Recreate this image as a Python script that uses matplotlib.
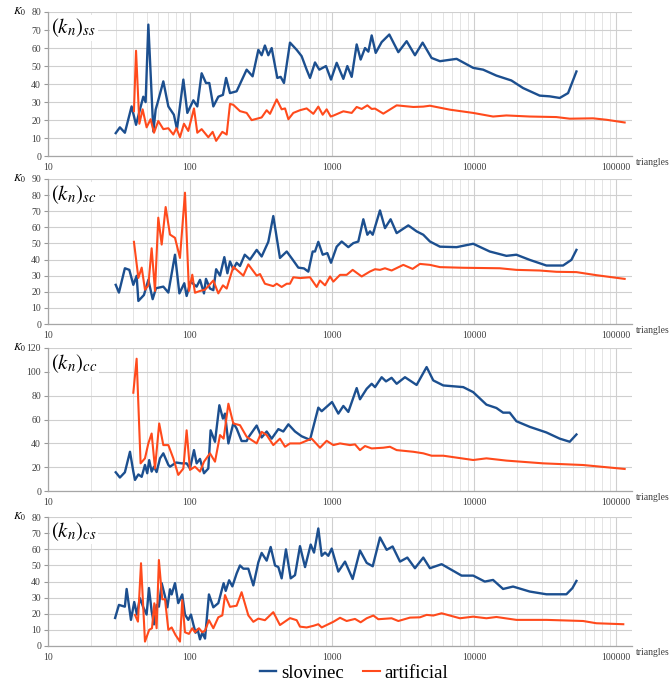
import matplotlib
matplotlib.use("Agg")
import matplotlib.pyplot as plt
from matplotlib.ticker import LogLocator, FixedLocator, FixedFormatter, MultipleLocator, NullFormatter

plt.rcParams['font.family'] = 'Liberation Serif'
plt.rcParams['mathtext.fontset'] = 'stix'

BLUE = '#1c4f8f'
RED = '#ff4a1c'

##==================== data: (k_n)_ss ===========================
ss_slov_x = [30, 32.1, 34.8, 38.8, 41.7, 44.4, 46.9, 48.7, 50.9, 55.2, 57.3, 59.8, 64.9, 70.4,
             77, 81, 89.8, 95.8, 105.6, 112.6, 120.8, 129.6, 136.8, 146, 158.3, 170.6, 179.6,
             191.3, 213, 250.6, 276, 303, 319.6, 337, 356, 376, 412, 435, 459, 506, 564, 611,
             663, 700, 759, 814, 907, 984, 1079, 1202, 1282, 1376, 1492, 1591, 1708, 1803, 1903,
             2031, 2237, 2532, 2931, 3354, 3838, 4346, 5025, 5756, 7540, 9865, 11590, 14380,
             18330, 22150, 29000, 34130, 40130, 45950, 52630]
ss_slov_y = [12.8, 16, 13, 27.6, 17.4, 25.8, 33, 30, 73, 13.7, 25.8, 31, 41.5, 27.6,
             23, 15, 42.5, 24, 31, 27.6, 46, 40.6, 40.6, 27.6, 33, 34, 43.4,
             35, 36, 48, 44.3, 59, 56, 61.4, 56, 60, 43.4, 44, 40.6, 63, 59, 55.5,
             48, 43.4, 52, 48, 50, 42.5, 51.8, 42.9, 50, 44, 62, 53.6, 60, 58, 67,
             57.3, 63.3, 67.5, 57.7, 63.8, 56, 63, 54.5, 52.7, 54, 49, 48, 44.7,
             42, 37.8, 33.6, 33.2, 32.3, 35, 47]
ss_art_x = [40.3, 41.7, 44, 46.4, 49.5, 52.8, 55.8, 59.8, 64.9, 70.4, 76.3, 80.3, 85, 90.7,
            97.3, 106.7, 112.6, 120.8, 134.6, 144.4, 152.8, 168.9, 181.3, 191.3, 201.9, 224.9,
            250.6, 271.8, 319.6, 346.7, 366, 408, 442, 467, 493, 534, 595, 663, 739, 801, 860,
            917, 979, 1022, 1202, 1376, 1492, 1618, 1774, 1903, 2009, 2298, 2853, 3737, 4393,
            4894, 6768, 9865, 13620, 16910, 24680, 38020, 47200, 68900, 85720, 115000]
ss_art_y = [25, 58.5, 18, 26, 16, 20.5, 13, 19.5, 15, 15.5, 12, 15.5, 10.5, 18,
            14, 26.5, 13, 15, 10.5, 13.5, 8.5, 13.5, 12, 29, 28.5, 25,
            24, 20, 21.5, 25.5, 23.5, 31.5, 26, 26.5, 20.5, 24, 25.5, 26.5, 23.5, 27.5, 23,
            26, 22, 22.5, 24.9, 24, 27.3, 26.2, 28.2, 26.2, 26.4, 23.6, 28.2, 27.3, 27.5,
            28, 25.8, 24, 22, 22.6, 22, 21.7, 20.8, 21, 20.2, 18.7]

##==================== data: (k_n)_sc ===========================
sc_slov_x = [30, 31.6, 34.8, 37.4, 39.9, 42.1, 43.3, 47.4, 50.9, 54.6, 57.6, 64.9, 70.4, 78.4,
             84.2, 91.2, 94.7, 101, 111.4, 117.6, 125.5, 129.6, 138.3, 146, 152.8, 162.7,
             174.5, 183.4, 191.3, 201.9, 213, 224.9, 243, 264.6, 294.9, 319.6, 356, 386, 430,
             480, 528, 579, 635, 681, 731, 759, 801, 860, 927, 984, 1079, 1170, 1303, 1413,
             1532, 1662, 1774, 1852, 1935, 2177, 2361, 2586, 2853, 3446, 3943, 4393, 4894,
             5756, 7540, 9865, 12900, 16910, 19880, 24680, 32330, 42360, 48490, 52630]
sc_slov_y = [24.3, 19.5, 34.6, 33.6, 24.3, 29.9, 14.3, 18, 27.4, 15.4, 22.2, 23.2, 19.5, 43,
             19, 25.3, 17.4, 26.3, 23.2, 27.4, 19, 28, 22, 21, 34, 30,
             41.5, 31.5, 38.8, 34, 38, 36, 43, 40, 46, 41.9, 51, 67, 41,
             45, 40, 35, 34.5, 32.5, 45, 45, 51, 43, 44, 38, 48, 51.2, 47.7, 50.2,
             51.2, 65, 55.4, 57.5, 55.4, 70.5, 59.5, 65, 56.4, 61.2, 57.5, 55.4, 51.2,
             48, 47.7, 49.8, 45, 42.3, 43, 39.8, 36.3, 36.3, 39.8, 46]
sc_art_x = [40.3, 43.3, 45.7, 48.2, 50.9, 53.7, 56.7, 59.8, 63.2, 67.4, 72.3, 78.4, 85, 92.2,
            98.3, 103.8, 108.4, 117.6, 127.6, 146, 158.3, 170.6, 181.3, 201.9, 237.5, 257.5,
            294.9, 311.3, 337, 386, 408, 442, 480, 506, 534, 595, 700, 780, 823, 893, 969,
            1022, 1139, 1268, 1398, 1618, 1852, 2009, 2177, 2361, 2628, 3178, 3695, 4162,
            4894, 5756, 8395, 15180, 19880, 29000, 38020, 52630, 72730, 115000]
sc_art_y = [51, 28.6, 35, 21.3, 24, 47, 20.5, 66, 49.3, 72.6, 55.5, 53.5, 41, 81.5,
            20.5, 30.6, 19.4, 20.5, 21.3, 27, 19, 24, 22, 35.5, 30, 37,
            30, 31, 25, 23.5, 25, 23, 25, 25, 29, 28.5, 29, 23, 27, 24, 29.5,
            26.3, 30.5, 30.5, 33.6, 29.5, 32.6, 34, 33.6, 34.6, 33.2, 36.7, 34.2, 37.3,
            36.7, 35.3, 34.9, 34.6, 33.6, 33.2, 32.4, 32.2, 30.3, 28]

##==================== data: (k_n)_cc ===========================
cc_slov_x = [30, 32.1, 34.8, 37.8, 39.9, 41, 43.3, 45.7, 48.2, 50, 51.6, 53.7, 55.8, 58.2,
             61.5, 64.9, 70.4, 72.3, 80, 87.4, 94.7, 100, 106.7, 111.4, 117.6, 125.5, 134.6,
             139.7, 150, 161, 170.6, 176.4, 186.4, 201.9, 213, 230.9, 250.6, 257.5, 294.9,
             319.6, 346.7, 376, 419, 454, 493, 549, 611, 700, 801, 846, 1000, 1108, 1202,
             1303, 1492, 1574, 1755, 1903, 2009, 2237, 2400, 2628, 2853, 3265, 3943, 4637,
             5166, 6075, 8395, 9865, 12230, 14380, 16020, 17840, 19880, 24680, 32330, 40130,
             47200, 52630]
cc_slov_y = [15.8, 11.4, 15.8, 33, 16.4, 9.4, 14, 12, 22, 15, 26, 16.4, 20.5, 16,
             27.5, 31.7, 22, 20.5, 24, 23.3, 23.3, 19, 34.4, 23.3, 27, 15, 19,
             51, 41.4, 72, 60.8, 65, 40, 57, 52.5, 42, 42, 45, 55,
             45, 50, 44, 52, 50, 56, 50, 46, 43, 70, 67, 74.7, 65, 71.4,
             66.4, 86.4, 77, 85.8, 90, 87.2, 95.5, 92, 95, 90, 95.5, 89, 104,
             92.8, 88.6, 87.2, 83, 72.5, 69.7, 65.8, 65.8, 58.6, 53.9, 49.2, 44,
             41.4, 47.5]
cc_art_x = [39.9, 42.1, 44.9, 48.2, 50.9, 53.7, 56.7, 60.7, 64.9, 70.4, 76.3, 82.7, 89.8,
            94.7, 100, 108.4, 117.6, 125.5, 138.3, 150, 162.7, 172.5, 186.4, 201.9, 224.9,
            250.6, 294.9, 319.6, 346.7, 386, 430, 467, 506, 595, 719, 823, 917, 1022, 1139,
            1339, 1452, 1574, 1708, 1903, 2298, 2558, 2853, 3737, 4393, 5025, 6075, 9865,
            12230, 16910, 30630, 58640, 115000]
cc_art_y = [82.5, 111, 23.3, 27.5, 40, 48.3, 19, 56.7, 38.6, 38.6, 27.5, 13.6, 19,
            51, 17.8, 20.5, 16.4, 24.7, 31.7, 24.7, 47, 44, 73.3, 56.7, 55.3,
            45.6, 40, 49.7, 47, 38.6, 44, 37.2, 40, 40, 44, 36.4, 42.2, 38.6, 40,
            38.6, 39.2, 34.4, 37.8, 35.8, 36.4, 37.2, 34.4, 33, 31.7, 29.7, 29.7, 26.1,
            27.5, 25.6, 23.3, 21.9, 18.6]

##==================== data: (k_n)_cs ===========================
cs_slov_x = [29.7, 31.6, 34.8, 35.8, 38.4, 40.5, 42.3, 44.4, 46.9, 49.5, 51.4, 53.7, 55.8,
             58.2, 60.4, 63.2, 66.7, 69.3, 72.3, 74.3, 78.4, 82.7, 88.2, 92.2, 97.3, 101.6,
             105.6, 109.5, 113.2, 117.6, 122, 127.6, 136, 146, 158.3, 172.5, 178.5, 188.6,
             198.8, 213, 224.9, 237.5, 257.5, 279.3, 303, 319.6, 346.7, 370, 397, 419, 442,
             474, 512, 549, 595, 646, 708, 747, 801, 846, 893, 942, 995, 1108, 1235, 1398,
             1574, 1755, 1935, 2177, 2426, 2671, 3011, 3391, 3838, 4393, 4894, 5913, 8173,
             9865, 11910, 13620, 16020, 18830, 24680, 32330, 44720, 49280, 52630]
cs_slov_y = [17.4, 25.5, 24.4, 35.4, 16.2, 27.3, 19.5, 29.7, 24, 19.5, 36, 21.6, 13.4,
             25.5, 24.4, 39, 30.8, 24, 35.2, 32, 39, 26.6, 32, 19.5, 16.2, 19.5,
             13.4, 8.2, 10.3, 4.1, 8.2, 4.6, 32, 24, 26.6, 39, 34.2, 40.8,
             37, 45, 50, 48, 48, 37.6, 52, 57.8, 53, 61.5, 50, 49, 42,
             60, 42, 44, 62, 49, 63, 58, 73, 56, 58, 56, 60.5, 46.2, 52.4, 41.6,
             59.3, 51.6, 49.5, 67.4, 59.7, 61.8, 52.4, 54.9, 48.3, 54.9, 48.3, 50.8, 43.7,
             43.7, 40, 41, 35.4, 36.9, 33.8, 32.1, 32.1, 35.9, 40.4]
cs_art_x = [41, 43, 45.2, 48.2, 51.6, 54, 56.1, 58.2, 60.4, 63.8, 66.7, 70.4, 74.3, 79.1,
            85, 88.2, 92.2, 98.3, 103.8, 108.4, 115.6, 122, 127.6, 136, 146, 158.3, 168.9,
            176.4, 191.3, 213, 230.9, 257.5, 279.3, 303, 337, 386, 430, 506, 564, 595, 663,
            739, 801, 846, 917, 1022, 1139, 1268, 1452, 1591, 1755, 1955, 2119, 2628, 2931,
            3540, 4162, 4637, 5166, 5913, 7956, 9865, 12230, 14380, 19880, 32330, 58640,
            72730, 112500]
cs_art_y = [19.3, 15.1, 51.4, 2.7, 10, 11, 26.5, 11, 53.4, 29, 29, 10, 11.5, 6.8,
            2.7, 28.5, 8.5, 7.5, 11, 8.5, 11, 8.5, 9.5, 16, 11, 17.8, 19,
            31.6, 24.3, 25, 33.4, 19, 15, 17, 16, 21, 13, 17.3, 16, 12, 11.5,
            12.5, 13.5, 11.5, 13, 15, 17.5, 15.5, 16.8, 14.7, 17.2, 18.9, 16.6, 17.2, 15.5,
            17.6, 17.8, 19.3, 18.9, 20.3, 17.2, 18.2, 17.2, 18, 16.2, 16.2, 15.5,
            14.1, 13.5]

panels = [
    (r'$(k_n)_{ss}$', 80, 10, ss_slov_x, ss_slov_y, ss_art_x, ss_art_y),
    (r'$(k_n)_{sc}$', 90, 10, sc_slov_x, sc_slov_y, sc_art_x, sc_art_y),
    (r'$(k_n)_{cc}$', 120, 20, cc_slov_x, cc_slov_y, cc_art_x, cc_art_y),
    (r'$(k_n)_{cs}$', 80, 10, cs_slov_x, cs_slov_y, cs_art_x, cs_art_y),
]
# [bottom, height] of each panel in figure fraction
boxes = [(0.772, 0.2105), (0.527, 0.2117), (0.283, 0.209), (0.057, 0.188)]

fig = plt.figure(figsize=(6.7, 6.85), dpi=100)

for (label, ymax, ystep, sx, sy, ax_, ay), (bot, hgt) in zip(panels, boxes):
    ax = fig.add_axes([0.0716, bot, 0.872, hgt])
    ax.set_xscale('log')
    ax.set_xlim(10, 130000)
    ax.set_ylim(0, ymax)

    ax.xaxis.set_major_locator(FixedLocator([10, 100, 1000, 10000, 100000]))
    ax.xaxis.set_major_formatter(FixedFormatter(['10', '100', '1000', '10000', '100000']))
    ax.xaxis.set_minor_locator(LogLocator(base=10, subs=range(2, 10)))
    ax.xaxis.set_minor_formatter(NullFormatter())
    ax.yaxis.set_major_locator(MultipleLocator(ystep))

    ax.tick_params(axis='x', which='both', length=0, pad=5, labelsize=7, colors='#404040')
    ax.tick_params(axis='y', length=3, width=0.8, color='#999999', pad=2,
                   labelsize=7, labelcolor='#404040')

    ax.grid(which='major', axis='both', color='#cfcfcf', lw=0.8)
    ax.grid(which='minor', axis='x', color='#e4e4e4', lw=0.7)
    ax.set_axisbelow(True)
    for side in ('top', 'right'):
        ax.spines[side].set_visible(False)
    for side in ('left', 'bottom'):
        ax.spines[side].set_color('#a6a6a6')
        ax.spines[side].set_linewidth(0.9)

    ax.plot(sx, sy, color=BLUE, lw=1.7, solid_joinstyle='round', label='slovinec')
    ax.plot(ax_, ay, color=RED, lw=1.5, solid_joinstyle='round', label='artificial')

    ax.text(0.006, 0.89, label, transform=ax.transAxes, fontsize=15, va='center', ha='left',
            bbox=dict(facecolor='white', edgecolor='none', pad=1))
    ax.text(-0.06, 1.0, r'$K_0$', transform=ax.transAxes, fontsize=8, va='center', ha='left')
    ax.text(1.006, -0.015, 'triangles', transform=ax.transAxes, fontsize=7,
            va='top', ha='left', color='#404040')

handles, labels = ax.get_legend_handles_labels()
fig.legend(handles, labels, loc='center', bbox_to_anchor=(0.528, 0.017), ncol=2,
           frameon=False, fontsize=13.5, handlelength=0.9, handletextpad=0.25,
           columnspacing=1.0, borderpad=0.1)

fig.savefig('out.png', dpi=100)
